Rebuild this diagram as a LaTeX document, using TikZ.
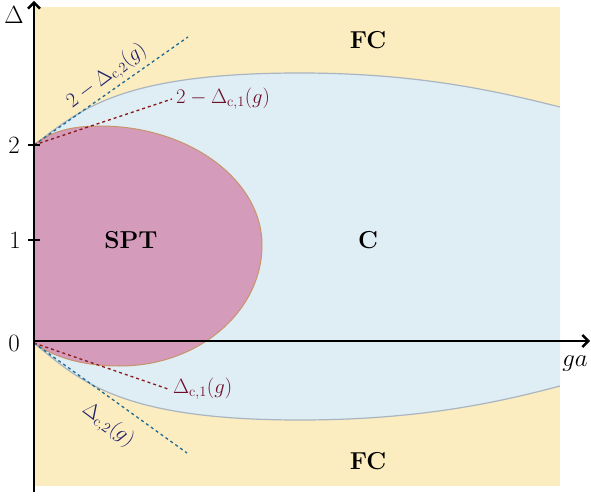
\documentclass[tikz,border=0pt]{standalone}
\usetikzlibrary{arrows.meta}
\definecolor{fcyellow}{HTML}{FCEDC0}
\definecolor{cblue}{HTML}{DFEDF5}
\definecolor{sptpink}{HTML}{D49BBA}
\definecolor{sptedge}{HTML}{C8946A}
\definecolor{cedge}{HTML}{A9B5C0}
\definecolor{dotred}{HTML}{8B1A1A}
\definecolor{dotblue}{HTML}{1E6A94}
\definecolor{labred}{HTML}{6E0F2A}
\definecolor{labblue}{HTML}{1C1F6B}
\begin{document}
\begin{tikzpicture}[x=1pt,y=-1pt,
  axis/.style={line width=2.4pt,-{Straight Barb[length=6pt,width=12pt,line width=2.4pt]}},
  tickline/.style={line width=1.2pt},
  ticklab/.style={font=\fontsize{23}{27}\selectfont},
  region/.style={font=\fontsize{24.5}{29}\selectfont\bfseries},
  dotr/.style={dotred,line width=1.3pt,dash pattern=on 3pt off 3pt},
  dotb/.style={dotblue,line width=1.3pt,dash pattern=on 3pt off 3pt},
  bound/.style={draw=cedge,line width=1.2pt},
  lab/.style={font=\fontsize{22.5}{26}\selectfont, inner sep=0pt}]
\useasboundingbox (0,0) rectangle (591,495);
% backgrounds
\fill[fcyellow] (34,7) rectangle (560,486);
\fill[cblue]
  (34,145) .. controls (80,110) and (120,73) .. (300,73)
  .. controls (420,73) and (500,92) .. (560,107)
  -- (560,386)
  .. controls (500,402) and (420,420) .. (300,420)
  .. controls (120,420) and (80,381) .. (34,343) -- cycle;
\draw[bound] (34,145) .. controls (80,110) and (120,73) .. (300,73)
  .. controls (420,73) and (500,92) .. (560,107);
\draw[bound] (560,386)
  .. controls (500,402) and (420,420) .. (300,420)
  .. controls (120,420) and (80,381) .. (34,343);
\filldraw[fill=sptpink,draw=sptedge,line width=1pt]
  (34,145) .. controls (50,132) and (70,126) .. (100,126)
  .. controls (189,126) and (262,180) .. (262,245)
  .. controls (262,312) and (198,366) .. (120,366)
  .. controls (80,366) and (52,356) .. (34,343) -- cycle;
% coordinates
\coordinate (p2) at (34,145);
\coordinate (p0) at (34,343);
\coordinate (ub) at (188,37);
\coordinate (ur) at (172,99);
\coordinate (lr) at (168,389);
\coordinate (lb) at (187,453);
\draw[dotb] (p2) -- (ub);
\draw[dotr] (p2) -- (ur);
\draw[dotr] (p0) -- (lr);
\draw[dotb] (p0) -- (lb);
% axes
\coordinate (ybot) at (34,492);
\coordinate (ytop) at (34,1);
\coordinate (xl) at (34,341);
\coordinate (xr) at (590,341);
\draw[axis] (ybot) -- (ytop);
\draw[axis] (xl) -- (xr);
\coordinate (t2a) at (28,145); \coordinate (t2b) at (40,145);
\coordinate (t1a) at (28,240); \coordinate (t1b) at (40,240);
\draw[tickline] (t2a) -- (t2b);
\draw[tickline] (t1a) -- (t1b);
\node[ticklab] (l2) at (14,145) {$2$};
\node[ticklab] (l1) at (15,240) {$1$};
\node[ticklab] (l0) at (14,343) {$0$};
\node[ticklab,font=\fontsize{25}{29}\selectfont] (ld) at (14,15) {$\Delta$};
\node[ticklab] (lga) at (575,364) {$ga$};
% regions
\node[region] (fct) at (368,40) {FC};
\node[region] (c) at (368,240) {C};
\node[region] (spt) at (131,240) {SPT};
\node[region] (fcb) at (368,461) {FC};
% curve labels
\node[lab,labblue,rotate=37] (a2) at (107,76) {$2-\Delta_{\mathrm{c},2}(g)$};
\node[lab,labred,anchor=west] (a1) at (176,99) {$2-\Delta_{\mathrm{c},1}(g)$};
\node[lab,labred,anchor=west] (b1) at (173,389) {$\Delta_{\mathrm{c},1}(g)$};
\node[lab,labblue,rotate=-37] (b2) at (108,425) {$\Delta_{\mathrm{c},2}(g)$};
\end{tikzpicture}
\end{document}
